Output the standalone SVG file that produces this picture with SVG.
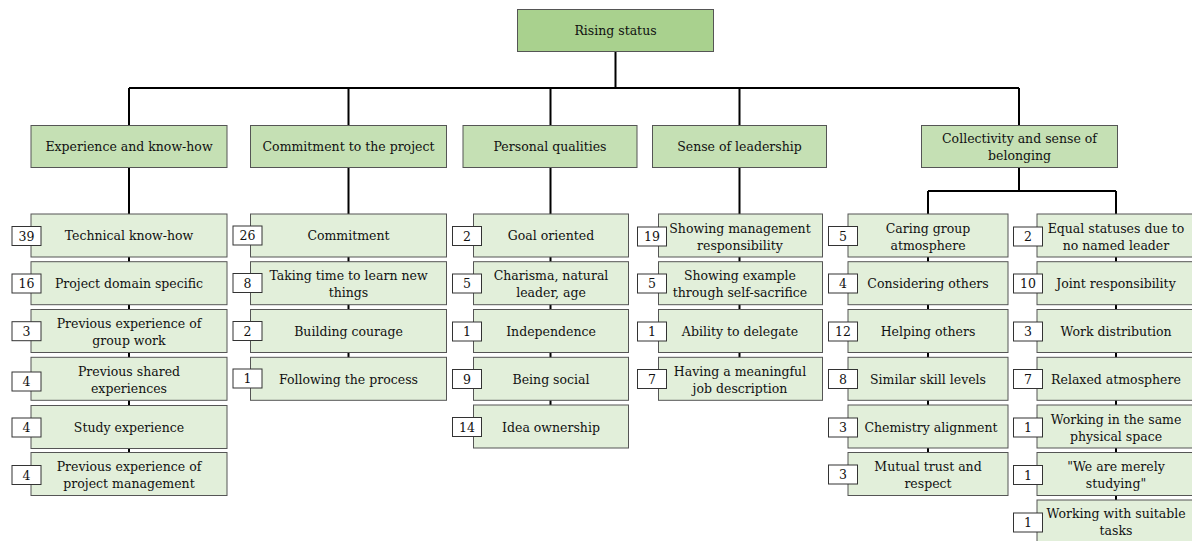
<svg xmlns="http://www.w3.org/2000/svg" width="1192" height="541" viewBox="0 0 1192 541">
<style>
text{font-family:"DejaVu Serif","Liberation Serif",serif;font-size:12.5px;fill:#111;text-anchor:middle}
.root{fill:#a9d18e;stroke:#555;stroke-width:1}
.cat{fill:#c5e0b4;stroke:#555;stroke-width:1}
.leaf{fill:#e2efda;stroke:#555;stroke-width:1}
.cnt{fill:#fff;stroke:#333;stroke-width:1}
.ln{stroke:#000;stroke-width:2;fill:none}
</style>
<rect width="1192" height="541" fill="#fff"/>
<g id="connectors">
<path class="ln" d="M615.5 52V88M129 88H1019M129 88V125M348.5 88V125M550.5 88V125M739.5 88V125M1019 88V125"/>
<path class="ln" d="M129 168V470M348.5 168V380M550.5 168V425M739.5 168V380M1019 168V191M928 191H1116M928 191V475M1116 191V530"/>
</g>
<g id="root"><rect class="root" x="517.5" y="9.5" width="196" height="42"/><text x="615.5" y="35">Rising status</text></g>
<g id="cat-experience"><rect class="cat" x="31" y="125.5" width="196" height="42"/><text x="129" y="151">Experience and know-how</text></g>
<g id="cat-commitment"><rect class="cat" x="250.5" y="125.5" width="196" height="42"/><text x="348.5" y="151">Commitment to the project</text></g>
<g id="cat-personal"><rect class="cat" x="463" y="125.5" width="174" height="42"/><text x="550" y="151">Personal qualities</text></g>
<g id="cat-leadership"><rect class="cat" x="652.5" y="125.5" width="174" height="42"/><text x="739.5" y="151">Sense of leadership</text></g>
<g id="cat-collectivity"><rect class="cat" x="921.5" y="125.5" width="196" height="42"/><text x="1019.5" y="143">Collectivity and sense of</text><text x="1019.5" y="160">belonging</text></g>

<!-- Column 1 -->
<g id="n1-1"><rect class="leaf" x="31" y="214" width="196" height="43"/><text x="129" y="240">Technical know-how</text><rect class="cnt" x="12" y="226.5" width="29" height="19"/><text x="26.5" y="240.5">39</text></g>
<g id="n1-2"><rect class="leaf" x="31" y="261.7" width="196" height="43"/><text x="129" y="288">Project domain specific</text><rect class="cnt" x="12" y="274" width="29" height="19"/><text x="26.5" y="288">16</text></g>
<g id="n1-3"><rect class="leaf" x="31" y="309.5" width="196" height="43"/><text x="129" y="328">Previous experience of</text><text x="129" y="345">group work</text><rect class="cnt" x="12" y="321.7" width="29" height="19"/><text x="26.5" y="335.5">3</text></g>
<g id="n1-4"><rect class="leaf" x="31" y="357.3" width="196" height="43"/><text x="129" y="376">Previous shared</text><text x="129" y="393">experiences</text><rect class="cnt" x="12" y="372" width="29" height="19"/><text x="26.5" y="386">4</text></g>
<g id="n1-5"><rect class="leaf" x="31" y="405.5" width="196" height="43"/><text x="129" y="432">Study experience</text><rect class="cnt" x="12" y="418" width="29" height="19"/><text x="26.5" y="432">4</text></g>
<g id="n1-6"><rect class="leaf" x="31" y="452.5" width="196" height="43"/><text x="129" y="471">Previous experience of</text><text x="129" y="488">project management</text><rect class="cnt" x="12" y="465.5" width="29" height="19"/><text x="26.5" y="479.5">4</text></g>

<!-- Column 2 -->
<g id="n2-1"><rect class="leaf" x="250.5" y="214" width="196" height="43"/><text x="348.5" y="240">Commitment</text><rect class="cnt" x="233" y="226" width="29" height="19"/><text x="247.5" y="240">26</text></g>
<g id="n2-2"><rect class="leaf" x="250.5" y="261.7" width="196" height="43"/><text x="348.5" y="280">Taking time to learn new</text><text x="348.5" y="297">things</text><rect class="cnt" x="233" y="273.5" width="29" height="19"/><text x="247.5" y="287.5">8</text></g>
<g id="n2-3"><rect class="leaf" x="250.5" y="309.5" width="196" height="43"/><text x="348.5" y="336">Building courage</text><rect class="cnt" x="233" y="321.5" width="29" height="19"/><text x="247.5" y="335.5">2</text></g>
<g id="n2-4"><rect class="leaf" x="250.5" y="357.3" width="196" height="43"/><text x="348.5" y="383.5">Following the process</text><rect class="cnt" x="233" y="369" width="29" height="19"/><text x="247.5" y="383">1</text></g>

<!-- Column 3 -->
<g id="n3-1"><rect class="leaf" x="473.5" y="214" width="155" height="43"/><text x="551" y="240">Goal oriented</text><rect class="cnt" x="452.5" y="226.5" width="29" height="19"/><text x="467" y="240.5">2</text></g>
<g id="n3-2"><rect class="leaf" x="473.5" y="261.7" width="155" height="43"/><text x="551" y="280">Charisma, natural</text><text x="551" y="297">leader, age</text><rect class="cnt" x="452.5" y="274" width="29" height="19"/><text x="467" y="288">5</text></g>
<g id="n3-3"><rect class="leaf" x="473.5" y="309.5" width="155" height="43"/><text x="551" y="336">Independence</text><rect class="cnt" x="452.5" y="322" width="29" height="19"/><text x="467" y="336">1</text></g>
<g id="n3-4"><rect class="leaf" x="473.5" y="357.3" width="155" height="43"/><text x="551" y="383.5">Being social</text><rect class="cnt" x="452.5" y="369.5" width="29" height="19"/><text x="467" y="383.5">9</text></g>
<g id="n3-5"><rect class="leaf" x="473.5" y="405" width="155" height="43"/><text x="551" y="431.5">Idea ownership</text><rect class="cnt" x="452.5" y="417.5" width="29" height="19"/><text x="467" y="431.5">14</text></g>

<!-- Column 4 -->
<g id="n4-1"><rect class="leaf" x="658.5" y="214" width="164" height="43"/><text x="740" y="233">Showing management</text><text x="740" y="250">responsibility</text><rect class="cnt" x="637.5" y="227" width="29" height="19"/><text x="652" y="241">19</text></g>
<g id="n4-2"><rect class="leaf" x="658.5" y="261.7" width="164" height="43"/><text x="740" y="280">Showing example</text><text x="740" y="297">through self-sacrifice</text><rect class="cnt" x="637.5" y="274" width="29" height="19"/><text x="652" y="288">5</text></g>
<g id="n4-3"><rect class="leaf" x="658.5" y="309.5" width="164" height="43"/><text x="740" y="336">Ability to delegate</text><rect class="cnt" x="637.5" y="322" width="29" height="19"/><text x="652" y="336">1</text></g>
<g id="n4-4"><rect class="leaf" x="658.5" y="357.3" width="164" height="43"/><text x="740" y="376">Having a meaningful</text><text x="740" y="393">job description</text><rect class="cnt" x="637.5" y="369.5" width="29" height="19"/><text x="652" y="383.5">7</text></g>

<!-- Column 5a -->
<g id="n5a-1"><rect class="leaf" x="848" y="214" width="160" height="43"/><text x="928" y="233">Caring group</text><text x="928" y="250">atmosphere</text><rect class="cnt" x="828.5" y="226.5" width="29" height="19"/><text x="843" y="240.5">5</text></g>
<g id="n5a-2"><rect class="leaf" x="848" y="261.7" width="160" height="43"/><text x="928" y="288">Considering others</text><rect class="cnt" x="828.5" y="274" width="29" height="19"/><text x="843" y="288">4</text></g>
<g id="n5a-3"><rect class="leaf" x="848" y="309.5" width="160" height="43"/><text x="928" y="336">Helping others</text><rect class="cnt" x="828.5" y="322" width="29" height="19"/><text x="843" y="336">12</text></g>
<g id="n5a-4"><rect class="leaf" x="848" y="357.3" width="160" height="43"/><text x="928" y="383.5">Similar skill levels</text><rect class="cnt" x="828.5" y="369.5" width="29" height="19"/><text x="843" y="383.5">8</text></g>
<g id="n5a-5"><rect class="leaf" x="848" y="405" width="160" height="43"/><text x="931" y="431.5">Chemistry alignment</text><rect class="cnt" x="828.5" y="418" width="29" height="19"/><text x="843" y="432">3</text></g>
<g id="n5a-6"><rect class="leaf" x="848" y="452.5" width="160" height="43"/><text x="928" y="471">Mutual trust and</text><text x="928" y="488">respect</text><rect class="cnt" x="828.5" y="465" width="29" height="19"/><text x="843" y="479">3</text></g>

<!-- Column 5b -->
<g id="n5b-1"><rect class="leaf" x="1037" y="214" width="160" height="43"/><text x="1116" y="233">Equal statuses due to</text><text x="1116" y="250">no named leader</text><rect class="cnt" x="1013.5" y="227" width="29" height="19"/><text x="1028" y="241">2</text></g>
<g id="n5b-2"><rect class="leaf" x="1037" y="261.7" width="160" height="43"/><text x="1116" y="288">Joint responsibility</text><rect class="cnt" x="1013.5" y="274" width="29" height="19"/><text x="1028" y="288">10</text></g>
<g id="n5b-3"><rect class="leaf" x="1037" y="309.5" width="160" height="43"/><text x="1116" y="336">Work distribution</text><rect class="cnt" x="1013.5" y="322" width="29" height="19"/><text x="1028" y="336">3</text></g>
<g id="n5b-4"><rect class="leaf" x="1037" y="357.3" width="160" height="43"/><text x="1116" y="383.5">Relaxed atmosphere</text><rect class="cnt" x="1013.5" y="369.5" width="29" height="19"/><text x="1028" y="383.5">7</text></g>
<g id="n5b-5"><rect class="leaf" x="1037" y="405" width="160" height="43"/><text x="1116" y="423.5">Working in the same</text><text x="1116" y="440.5">physical space</text><rect class="cnt" x="1013.5" y="418" width="29" height="19"/><text x="1028" y="432">1</text></g>
<g id="n5b-6"><rect class="leaf" x="1037" y="452.5" width="160" height="43"/><text x="1116" y="471">"We are merely</text><text x="1116" y="488">studying"</text><rect class="cnt" x="1013.5" y="465.5" width="29" height="19"/><text x="1028" y="479.5">1</text></g>
<g id="n5b-7"><rect class="leaf" x="1037" y="500" width="160" height="43"/><text x="1116" y="518">Working with suitable</text><text x="1116" y="535">tasks</text><rect class="cnt" x="1013.5" y="513" width="29" height="19"/><text x="1028" y="527">1</text></g>
</svg>
